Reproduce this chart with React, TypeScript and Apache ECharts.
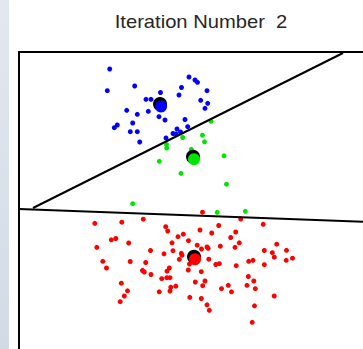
import React, { useEffect, useRef } from "react";
import * as echarts from "echarts";

const titleText = "Iteration Number  2";

const bluePoints: number[][] = [
  [109.7, 69], [107.3, 90.7], [134.7, 86], [146, 99.3], [151, 99.3],
  [126.7, 110.3], [137.3, 114.3], [148.3, 111.3], [132.7, 123], [117.3, 125],
  [114.3, 127.7], [130.3, 131.7], [137.3, 131.7], [160.5, 92.5], [189, 77],
  [195, 80], [197.5, 82.3], [181.5, 87.5], [179, 95], [207, 90.7],
  [200.7, 100.3], [207.7, 103.3], [205, 108.3], [159, 116.7], [165, 120],
  [185, 119.5], [177, 129], [180.5, 132], [173, 133.5], [176, 134],
  [187.7, 126.7], [166, 138], [139.7, 142],
];

const greenPoints: number[][] = [
  [211, 121.3], [202.5, 135.2], [204.5, 141.8], [182.7, 137.5], [166.5, 144.5],
  [166.7, 148], [191.3, 149.3], [159.3, 161.3], [224, 155.8], [181, 173.3],
  [226.5, 184.2], [132.7, 203.7], [217.2, 212.3], [245.3, 211.3],
];

const redPoints: number[][] = [
  [94.8, 223.3], [121.8, 222.2], [143.3, 219.2], [165.7, 226.7], [167.7, 231],
  [111.3, 239.8], [115.8, 238.5], [128.7, 243], [96.8, 247.3], [150.5, 250.5],
  [172, 242.8], [178, 236.7], [183.3, 234.2], [188.5, 240.7], [164, 253.8],
  [173, 250.7], [181.3, 253.3], [182, 255.2], [179.3, 259.3], [102.8, 261.3],
  [130.2, 261.5], [145.7, 262.5], [106.5, 268], [142.5, 270.5], [144.3, 272],
  [151, 274.5], [169.3, 268], [167, 271.2], [161.7, 278.7], [166.8, 277.7],
  [170, 277.7], [121.3, 283.2], [127.5, 290.8], [175.8, 286.2], [170.8, 287.2],
  [170, 291], [159.2, 291.8], [124.3, 296], [120.2, 301.7], [188.3, 270],
  [189.5, 264], [189.8, 297.3], [202.5, 212.2], [240.7, 219], [218.7, 225.5],
  [200, 230], [211.7, 233], [235.7, 232], [263.2, 224.3], [230.7, 237.5],
  [239.3, 242.8], [197.2, 245.2], [201.5, 249], [207, 247], [208.2, 248.3],
  [220.3, 246.2], [235, 247.3], [276.7, 244.2], [264.3, 250.5], [272.3, 252.7],
  [274.3, 257.2], [286.5, 250.3], [292.5, 258.2], [286.2, 260.3], [208.8, 259.2],
  [215.8, 264.5], [219.3, 263.7], [236.2, 265.7], [248.7, 261.3], [253, 260.3],
  [264.3, 264.7], [201.3, 271.7], [195.3, 282], [205, 281], [202.7, 285.7],
  [221.5, 288.7], [228.3, 285.3], [231.5, 291.8], [248.3, 276.5], [253.8, 281],
  [247, 285.3], [255.3, 288.7], [201.3, 298.5], [207, 304.8], [209.3, 310.3],
  [254.5, 305.8], [274.2, 296], [252.2, 322.3],
];

const centroids: number[][] = [
  [161, 106.5],
  [194, 159.3],
  [195, 259.2],
];
const centroidColors = ["#0000ff", "#00e600", "#ff0000"];

const boundaryA: number[][] = [[33, 208], [343, 53]];
const boundaryB: number[][] = [[19, 209], [363, 221.8]];

export default function App() {
  const ref = useRef<HTMLDivElement>(null);
  useEffect(() => {
    if (!ref.current) return;
    const chart = echarts.init(ref.current, undefined, { renderer: "svg" });
    const dot = (data: number[][], color: string, name: string) => ({
      type: "scatter",
      name,
      data,
      symbol: "circle",
      symbolSize: 5,
      itemStyle: { color, opacity: 1 },
      z: 2,
    });
    chart.setOption({
      animation: false,
      backgroundColor: "#ffffff",
      grid: { left: 19, top: 52, width: 344, height: 297 },
      xAxis: {
        type: "value",
        min: 19,
        max: 363,
        position: "top",
        axisLine: { show: true, onZero: false, lineStyle: { color: "#000", width: 2 } },
        axisTick: { show: false },
        axisLabel: { show: false },
        splitLine: { show: false },
      },
      yAxis: {
        type: "value",
        min: 52,
        max: 349,
        inverse: true,
        axisLine: { show: true, onZero: false, lineStyle: { color: "#000", width: 2 } },
        axisTick: { show: false },
        axisLabel: { show: false },
        splitLine: { show: false },
      },
      graphic: [
        {
          type: "rect",
          left: 0,
          top: 0,
          shape: { x: 0, y: 0, width: 9, height: 349 },
          style: {
            fill: new echarts.graphic.LinearGradient(0, 0, 0, 1, [
              { offset: 0, color: "#e2e8ef" },
              { offset: 1, color: "#d2dbe5" },
            ]),
          },
          silent: true,
        },
        {
          type: "text",
          x: 201,
          y: 21.5,
          scaleX: 1.12,
          style: {
            text: titleText,
            fontFamily: "Liberation Sans",
            fontSize: 18,
            fill: "#262626",
            textAlign: "center",
            textVerticalAlign: "middle",
          },
        },
      ],
      series: [
        dot(bluePoints, "#0000ff", "cluster 1"),
        dot(greenPoints, "#00e600", "cluster 2"),
        dot(redPoints, "#ff0000", "cluster 3"),
        {
          type: "scatter",
          name: "centroid outline",
          data: centroids,
          symbol: "circle",
          symbolSize: 14,
          symbolOffset: [-1, -2.5],
          itemStyle: { color: "#000", opacity: 1 },
          z: 3,
        },
        {
          type: "scatter",
          name: "centroid",
          data: centroids.map((c, i) => ({
            value: c,
            itemStyle: { color: centroidColors[i], opacity: 1 },
          })),
          symbol: "circle",
          symbolSize: 12,
          itemStyle: { opacity: 1 },
          z: 4,
        },
        {
          type: "line",
          name: "boundary A",
          data: boundaryA,
          symbol: "none",
          lineStyle: { color: "#000", width: 2 },
          z: 5,
        },
        {
          type: "line",
          name: "boundary B",
          data: boundaryB,
          symbol: "none",
          lineStyle: { color: "#000", width: 2 },
          z: 5,
        },
      ],
    });
    return () => chart.dispose();
  }, []);
  return (
    <div
      ref={ref}
      style={{ position: "fixed", left: 0, top: 0, width: 363, height: 349 }}
    />
  );
}
